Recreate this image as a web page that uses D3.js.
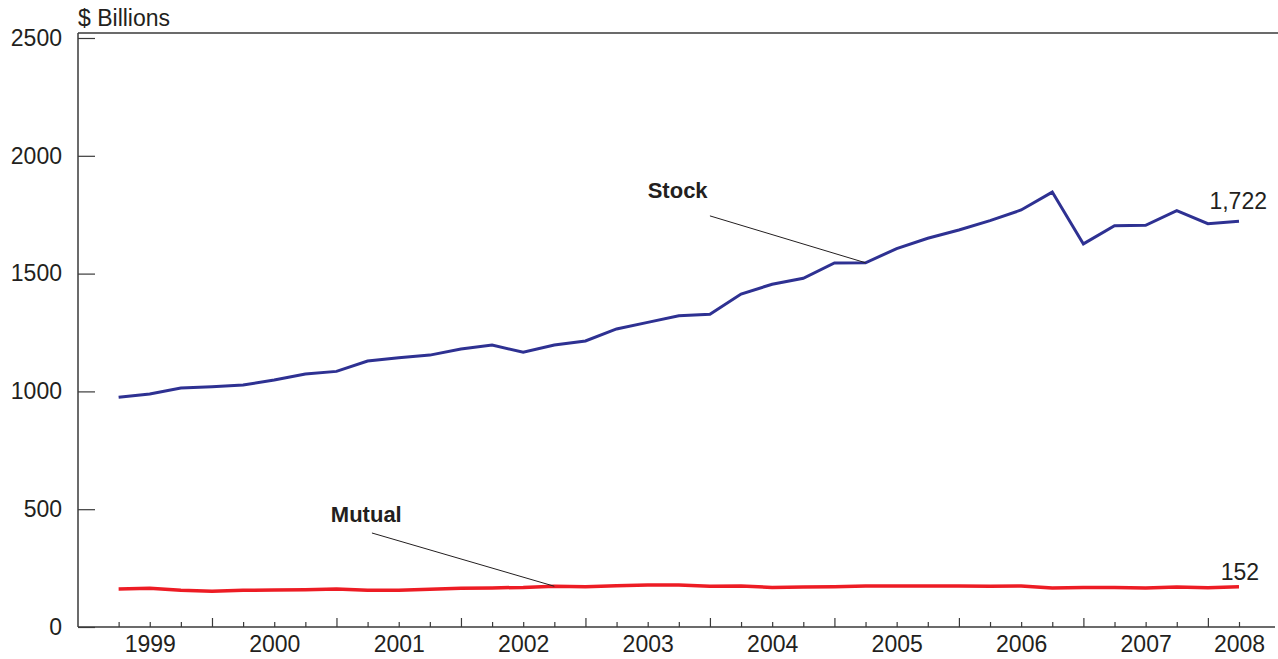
<!DOCTYPE html>
<html>
<head>
<meta charset="utf-8">
<script src="https://cdn.jsdelivr.net/npm/d3@7"></script>
<style>
  body { margin: 0; background: #fff; }
  text { font-family: "Liberation Sans", Arial, sans-serif; fill: #231f20; }
</style>
</head>
<body>
<div id="chart"></div>
<script>
// quarter ends, 1999Q1 .. 2008Q1
const quarters = [
  "1999Q1","1999Q2","1999Q3","1999Q4","2000Q1","2000Q2","2000Q3","2000Q4",
  "2001Q1","2001Q2","2001Q3","2001Q4","2002Q1","2002Q2","2002Q3","2002Q4",
  "2003Q1","2003Q2","2003Q3","2003Q4","2004Q1","2004Q2","2004Q3","2004Q4",
  "2005Q1","2005Q2","2005Q3","2005Q4","2006Q1","2006Q2","2006Q3","2006Q4",
  "2007Q1","2007Q2","2007Q3","2007Q4","2008Q1"
];
const years = [1999, 2000, 2001, 2002, 2003, 2004, 2005, 2006, 2007, 2008];

// $ billions
const stock = [
  975, 989, 1014, 1020, 1027, 1048, 1074, 1085, 1129, 1143, 1154, 1180,
  1197, 1166, 1197, 1214, 1265, 1293, 1321, 1327, 1413, 1455, 1480, 1545,
  1546, 1606, 1650, 1685, 1725, 1770, 1846, 1626, 1703, 1705, 1767, 1712, 1722
];
const mutual = [
  161, 164, 156, 152, 156, 157, 158, 161, 156, 156, 160, 164,
  166, 168, 173, 171, 175, 178, 178, 173, 174, 168, 170, 171,
  174, 174, 174, 174, 173, 174, 166, 168, 168, 166, 170, 167, 171
];
const yTicks = [0, 500, 1000, 1500, 2000, 2500];

const width = 1278, height = 659;
const frame = {left: 78, top: 33, right: 1275, bottom: 627};

const svg = d3.select('#chart')
  .append('svg')
  .attr('width', width)
  .attr('height', height);

// x: position counted in quarters from start of 1999, point i sits at i+1
const x = d3.scaleLinear()
  .domain([0, quarters.length])
  .range([87.5, 1239]);

const y = d3.scaleLinear()
  .domain([0, 2500])
  .range([frame.bottom, 38]);

const axisColor = '#3a3a3a';

// frame lines
svg.append('line')
  .attr('x1', frame.left).attr('x2', width)
  .attr('y1', frame.top).attr('y2', frame.top)
  .attr('stroke', axisColor).attr('stroke-width', 1.5);
svg.append('line')
  .attr('x1', frame.left).attr('x2', frame.left)
  .attr('y1', frame.top).attr('y2', frame.bottom)
  .attr('stroke', axisColor).attr('stroke-width', 1.5);
svg.append('line')
  .attr('x1', frame.left).attr('x2', frame.right)
  .attr('y1', frame.bottom).attr('y2', frame.bottom)
  .attr('stroke', axisColor).attr('stroke-width', 1.5);

// y axis
const yAxis = svg.append('g')
  .attr('transform', `translate(${frame.left},0)`)
  .call(d3.axisLeft(y).tickValues(yTicks).tickSize(-17).tickPadding(16).tickFormat(d3.format('d')));
yAxis.select('.domain').remove();
yAxis.selectAll('line').attr('stroke', axisColor).attr('stroke-width', 1.2);
yAxis.selectAll('text')
  .style('font-size', '23px')
  .style('font-family', '"Liberation Sans", Arial, sans-serif')
  .attr('fill', '#231f20');

svg.append('text')
  .attr('x', frame.left)
  .attr('y', 26)
  .style('font-size', '23px')
  .text('$ Billions');

// x axis ticks (quarters, longer at year ends)
const xTicks = svg.append('g')
  .attr('transform', `translate(0,${frame.bottom})`)
  .call(d3.axisBottom(x)
    .tickValues(quarters.map((q, i) => i + 1))
    .tickSize(-5)
    .tickFormat(''));
xTicks.select('.domain').remove();
xTicks.selectAll('line')
  .attr('stroke', axisColor)
  .attr('stroke-width', 1.2)
  .attr('y2', d => d % 4 === 0 ? -9 : -5);

// year labels at mid-year (2008 under its last point)
const xLabels = svg.append('g')
  .attr('transform', `translate(0,${frame.bottom})`)
  .call(d3.axisBottom(x)
    .tickValues(years.map(yr => Math.min((yr - years[0]) * 4 + 2, quarters.length)))
    .tickSize(0)
    .tickPadding(9)
    .tickFormat((d, i) => years[i]));
xLabels.select('.domain').remove();
xLabels.selectAll('text')
  .style('font-size', '23px')
  .style('font-family', '"Liberation Sans", Arial, sans-serif')
  .attr('fill', '#231f20');

// lines
const line = d3.line()
  .x((d, i) => x(i + 1))
  .y(d => y(d));

svg.append('path')
  .datum(mutual)
  .attr('fill', 'none')
  .attr('stroke', '#ed1c24')
  .attr('stroke-width', 3.5)
  .attr('stroke-linejoin', 'round')
  .attr('d', line);

svg.append('path')
  .datum(stock)
  .attr('fill', 'none')
  .attr('stroke', '#2e3192')
  .attr('stroke-width', 3)
  .attr('stroke-linejoin', 'miter')
  .attr('d', line);

// labels with leader lines (positions in data units)
const notes = [
  {text: 'Stock', lx: 18.0, ly: 1821, sx: 20.0, sy: 1745, idx: 24, series: stock},
  {text: 'Mutual', lx: 7.82, ly: 446, sx: 9.14, sy: 399, idx: 14, series: mutual}
];
notes.forEach(n => {
  svg.append('line')
    .attr('x1', x(n.sx)).attr('y1', y(n.sy))
    .attr('x2', x(n.idx + 1)).attr('y2', y(n.series[n.idx]))
    .attr('stroke', '#231f20')
    .attr('stroke-width', 1);
  svg.append('text')
    .attr('x', x(n.lx))
    .attr('y', y(n.ly))
    .attr('font-weight', 'bold')
    .style('font-size', '22px')
    .text(n.text);
});

// end values
const last = quarters.length - 1;
svg.append('text')
  .attr('x', x(last + 1) + 28)
  .attr('y', y(stock[last]) - 12)
  .attr('text-anchor', 'end')
  .style('font-size', '23px')
  .text(d3.format(',')(stock[last]));
svg.append('text')
  .attr('x', x(last + 1) + 20)
  .attr('y', y(mutual[last]) - 7)
  .attr('text-anchor', 'end')
  .style('font-size', '23px')
  .text('152');
</script>
</body>
</html>
